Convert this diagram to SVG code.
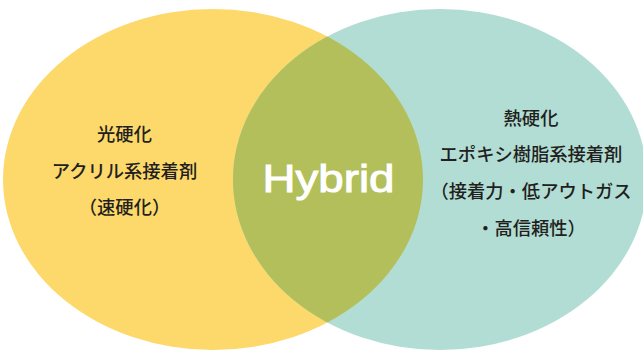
<svg xmlns="http://www.w3.org/2000/svg" width="643" height="354" viewBox="0 0 643 354">
<style>
.t{font-family:"Noto Sans CJK JP","Noto Sans",sans-serif;font-size:18.3px;font-weight:500;fill:#231f20;text-anchor:middle}
.h{font-family:"Liberation Sans",Arial,sans-serif;font-size:39px;font-weight:400;fill:#ffffff;stroke:#ffffff;stroke-width:1;text-anchor:middle}
</style>
<defs>
<clipPath id="clipL"><ellipse cx="213" cy="179.5" rx="210" ry="170.5"/></clipPath>
</defs>
<g id="left">
<ellipse cx="213" cy="179.5" rx="210" ry="170.5" fill="#fdd96b"/>
</g>
<g id="right">
<ellipse cx="440" cy="179.5" rx="207" ry="170.5" fill="#b2ddd4"/>
</g>
<g id="overlap">
<ellipse cx="440" cy="179.5" rx="207" ry="170.5" fill="#b3bf5a" clip-path="url(#clipL)"/>
<text class="h" x="328.5" y="192" textLength="132" lengthAdjust="spacingAndGlyphs">Hybrid</text>
</g>
<g id="left-label">
<text class="t" x="124.5" y="141">光硬化</text>
<text class="t" x="124.5" y="178">アクリル系接着剤</text>
<text class="t" x="124.5" y="214">（速硬化）</text>
</g>
<g id="right-label">
<text class="t" x="531" y="125">熱硬化</text>
<text class="t" x="531" y="161">エポキシ樹脂系接着剤</text>
<text class="t" x="531" y="198">（接着力・低アウトガス</text>
<text class="t" x="531" y="235">・高信頼性）</text>
</g>
<g id="connectors"></g>
</svg>
